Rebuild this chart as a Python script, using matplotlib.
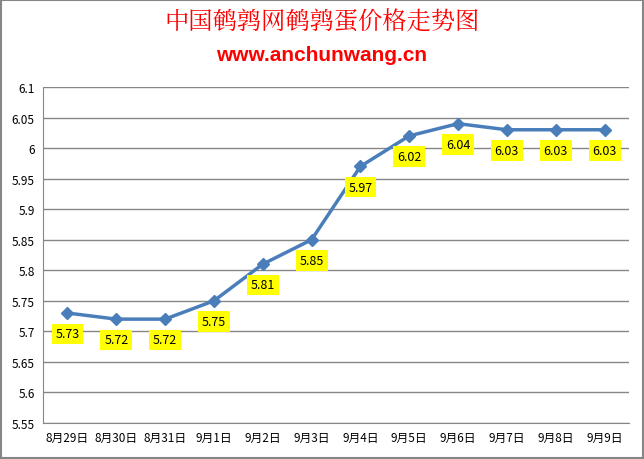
import matplotlib
matplotlib.use('Agg')
import matplotlib.pyplot as plt
from matplotlib.patches import Rectangle

plt.rcParams['font.family'] = ['Noto Sans CJK SC', 'DejaVu Sans']

# 数据
dates = ['8月29日', '8月30日', '8月31日', '9月1日', '9月2日', '9月3日',
         '9月4日', '9月5日', '9月6日', '9月7日', '9月8日', '9月9日']
prices = [5.73, 5.72, 5.72, 5.75, 5.81, 5.85, 5.97, 6.02, 6.04, 6.03, 6.03, 6.03]
yticks = [5.55, 5.6, 5.65, 5.7, 5.75, 5.8, 5.85, 5.9, 5.95, 6, 6.05, 6.1]

fig = plt.figure(figsize=(6.44, 4.6), dpi=100)
ax = fig.add_axes([0.0668, 0.0783, 0.9099, 0.7304])

x = list(range(len(dates)))
ax.plot(x, prices, color='#4a7ebb', lw=2.5, marker='D', ms=6, zorder=3)

# 数据标签（黄色底）
for xi, p in zip(x, prices):
    ax.annotate(f'{p:g}', (xi, p), xytext=(0, -15), textcoords='offset points',
                ha='center', va='center', fontsize=9, color='black',
                bbox=dict(boxstyle='square,pad=0.3', fc='#ffff00', ec='none'),
                zorder=4)

ax.set_xlim(-0.5, len(dates) - 0.5)
ax.set_ylim(5.55, 6.1)
ax.set_yticks(yticks)
ax.set_yticklabels([f'{v:g}' for v in yticks], fontsize=8.5)
ax.set_xticks(x)
ax.set_xticklabels(dates, fontsize=8.5)
ax.tick_params(length=0, pad=6)
ax.grid(axis='y', color='#868686', lw=1)
ax.set_axisbelow(True)
for s in ['top', 'right']:
    ax.spines[s].set_visible(False)
for s in ['left', 'bottom']:
    ax.spines[s].set_color('#868686')

# 标题
fig.text(0.5, 0.952, '中国鹌鹑网鹌鹑蛋价格走势图', ha='center', va='center',
         fontsize=17.5, color='#ff0000', family=['Noto Serif CJK SC', 'Noto Sans CJK SC'])
fig.text(0.5, 0.88, 'www.anchunwang.cn', ha='center', va='center',
         fontsize=15, color='#ff0000', fontweight='bold', family=['Liberation Sans'])

# 外框
fig.patches.append(Rectangle((0.002, 0.002), 0.996, 0.995, transform=fig.transFigure,
                             fill=False, ec='#868686', lw=1.5))

fig.savefig('out.png', dpi=100)
